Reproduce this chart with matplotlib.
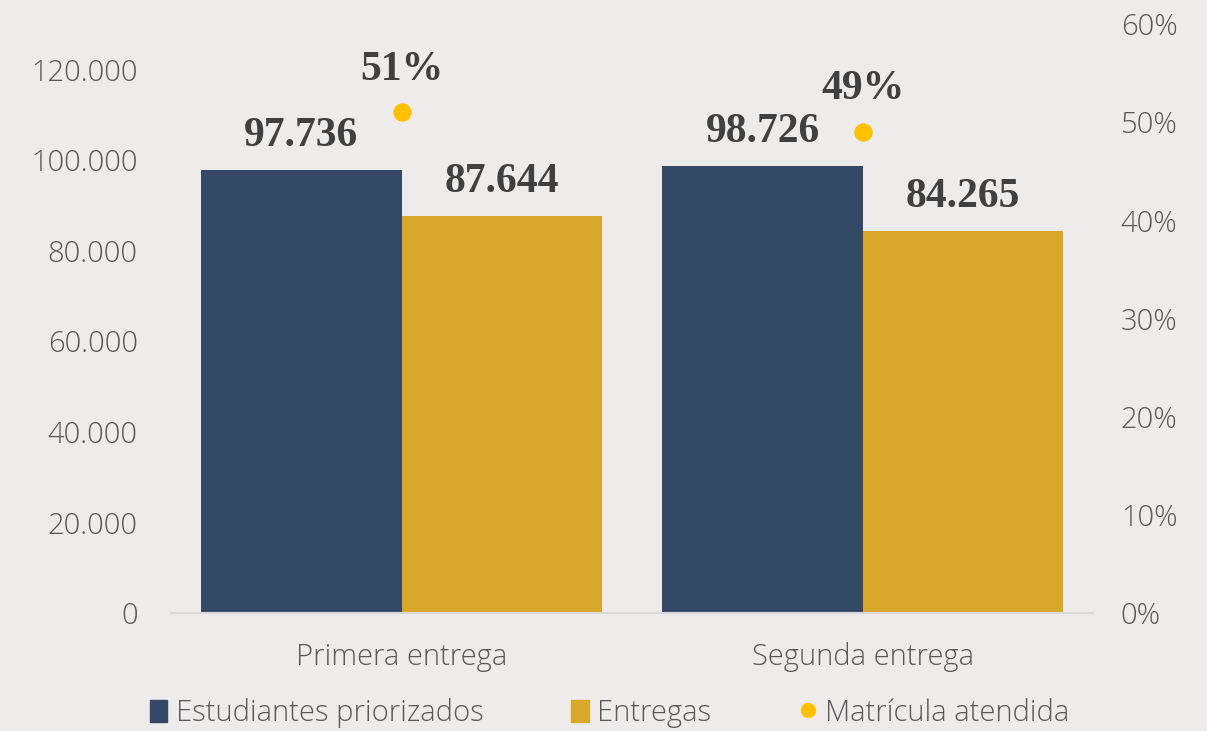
import matplotlib
matplotlib.use("Agg")
import matplotlib.pyplot as plt
import numpy as np
from matplotlib.lines import Line2D
from matplotlib.patches import Patch

# datos
categorias = ['Primera entrega', 'Segunda entrega']
priorizados = [97736, 98726]
entregas = [87644, 84265]
matricula = [0.51, 0.49]

lbl_prior = ['97.736', '98.726']
lbl_entr = ['87.644', '84.265']
lbl_matr = ['51%', '49%']

fondo = '#EEECEA'
azul = '#344966'
oro = '#D8A82B'
amarillo = '#FFC000'
gris = '#595959'

plt.rcParams['font.family'] = ['Open Sans', 'DejaVu Sans']
plt.rcParams['font.weight'] = 300

fig = plt.figure(figsize=(12.07, 7.31), dpi=100, facecolor=fondo)
ax = fig.add_axes([0.1417, 0.1614, 0.9056 - 0.1417, 0.9672 - 0.1614])
ax.set_facecolor(fondo)

x = np.arange(len(categorias))
w = 0.434
ax.bar(x - w / 2, priorizados, w, color=azul, label='Estudiantes priorizados')
ax.bar(x + w / 2, entregas, w, color=oro, label='Entregas')

ax.set_xlim(-0.5, 1.5)
ax.set_ylim(0, 130000)
ax.set_yticks(range(0, 120001, 20000))
ax.set_yticklabels([f'{v:,}'.replace(',', '.') for v in range(0, 120001, 20000)])
ax.set_xticks(x)
ax.set_xticklabels(categorias)

for s in ['top', 'right', 'left']:
    ax.spines[s].set_visible(False)
ax.spines['bottom'].set_color('#D9D9D9')
ax.spines['bottom'].set_linewidth(1.5)
ax.tick_params(axis='both', length=0, labelsize=21, colors=gris)
ax.tick_params(axis='y', pad=24)
ax.tick_params(axis='x', pad=21)

# eje secundario
ax2 = ax.twinx()
ax2.set_ylim(0, 0.6)
ax2.set_yticks(np.arange(0, 0.61, 0.1))
ax2.set_yticklabels([f'{int(round(v * 100))}%' for v in np.arange(0, 0.61, 0.1)])
for s in ax2.spines.values():
    s.set_visible(False)
ax2.tick_params(axis='y', length=0, labelsize=21, colors=gris, pad=20)
ax2.scatter(x, matricula, s=150, color=amarillo, zorder=5, label='Matrícula atendida')

# etiquetas
fuente = dict(family=['Liberation Serif', 'DejaVu Serif'], weight='bold', size=30, color='#404040')
for i in range(len(x)):
    ax.text(x[i] - w / 2, priorizados[i] + 3300, lbl_prior[i], ha='center', va='bottom', **fuente)
    ax.text(x[i] + w / 2, entregas[i] + 3300, lbl_entr[i], ha='center', va='bottom', **fuente)
    ax2.text(x[i], matricula[i] + 0.024, lbl_matr[i], ha='center', va='bottom', **fuente)

handles = [Patch(color=azul), Patch(color=oro),
           Line2D([], [], marker='o', linestyle='none', color=amarillo, markersize=10)]
fig.legend(handles, ['Estudiantes priorizados', 'Entregas', 'Matrícula atendida'],
           loc='lower center', bbox_to_anchor=(0.505, -0.032), ncol=3, frameon=False,
           fontsize=21, labelcolor=gris, handlelength=0.6, handleheight=0.8,
           handletextpad=0.3, columnspacing=3.0)

plt.savefig('out.png', dpi=100, facecolor=fondo)
